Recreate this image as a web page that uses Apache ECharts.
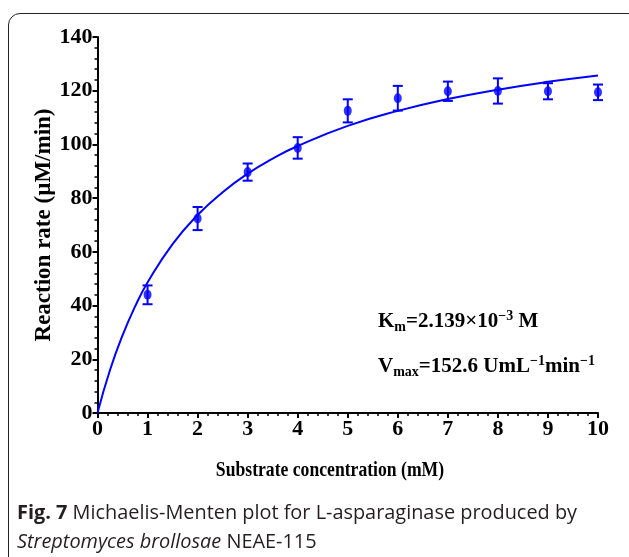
<!DOCTYPE html>
<html>
<head>
<meta charset="utf-8">
<script src="https://cdn.jsdelivr.net/npm/echarts@6/dist/echarts.min.js"></script>
<style>
  html, body { margin: 0; padding: 0; background: #fff; }
  #frame {
    position: absolute; left: 8px; top: 13px; width: 632px; height: 556px;
    border: 1.5px solid #222; border-radius: 12px; box-sizing: border-box;
  }
  #chart { position: absolute; left: 0; top: 0; width: 629px; height: 557px; }
  #caption {
    position: absolute; left: 17px; top: 497px; width: 610px;
    font-family: "Open Sans", sans-serif; font-size: 19.9px; line-height: 29px; color: #231f20;
    white-space: nowrap;
  }
</style>
</head>
<body>
<div id="frame"></div>
<div id="chart"></div>
<div id="caption"><b>Fig. 7</b> Michaelis-Menten plot for L-asparaginase produced by<br><i>Streptomyces brollosae</i> NEAE-115</div>
<script>
// measured points (mean ± error)
const substrate = [1, 2, 3, 4, 5, 6, 7, 8, 9, 10];
const rate = [44.0, 72.4, 89.7, 98.7, 112.5, 117.2, 119.8, 119.9, 119.8, 119.4];
const rateErr = [3.5, 4.3, 3.2, 4.0, 4.3, 4.6, 3.6, 4.7, 3.0, 2.9];

// fitted curve
const curveX = [0, 0.25, 0.5, 0.75, 1, 1.5, 2, 2.5, 3, 3.5, 4, 5, 6, 7, 8, 9, 10];
const curveY = [0, 16.0, 28.9, 39.6, 48.6, 62.9, 73.7, 82.2, 89.1, 94.7, 99.4, 106.9, 112.5, 116.9, 120.4, 123.3, 125.7];

const blue = '#0000ff';
const serif = '"Liberation Serif", "Times New Roman", serif';

const chart = echarts.init(document.getElementById('chart'));

const axisCommon = {
  axisLine: { lineStyle: { color: '#000', width: 2 } },
  axisTick: { inside: false, length: 5, lineStyle: { color: '#000', width: 2 } },
  minorTick: { show: true, splitNumber: 5, length: 3, lineStyle: { color: '#000', width: 1.5 } },
  splitLine: { show: false },
  axisLabel: { color: '#000', fontFamily: serif, fontWeight: 'bold', fontSize: 22 }
};

const rich = {
  b: { fontFamily: serif, fontWeight: 'bold', fontSize: 21, fill: '#000' },
  s: { fontFamily: serif, fontWeight: 'bold', fontSize: 14, padding: [11, 0, 0, 0], fill: '#000' },
  p: { fontFamily: serif, fontWeight: 'bold', fontSize: 14, padding: [0, 0, 11, 0], fill: '#000' }
};

const option = {
  animation: false,
  grid: { left: 97.5, right: 31, top: 37, bottom: 144 },
  xAxis: Object.assign({}, axisCommon, {
    type: 'value', min: 0, max: 10, interval: 1,
    axisLabel: Object.assign({}, axisCommon.axisLabel, { margin: 5 })
  }),
  yAxis: Object.assign({}, axisCommon, {
    type: 'value', min: 0, max: 140, interval: 20,
    name: 'Reaction rate (\u00b5M/min)',
    nameLocation: 'middle', nameGap: 42, nameMoveOverlap: false,
    nameTextStyle: { color: '#000', fontFamily: serif, fontWeight: 'bold', fontSize: 23 },
    axisLabel: Object.assign({}, axisCommon.axisLabel, { margin: 5 })
  }),
  series: [
    {
      type: 'line',
      data: curveX.map((x, i) => [x, curveY[i]]),
      smooth: true,
      showSymbol: false,
      lineStyle: { color: blue, width: 2 },
      z: 2
    },
    {
      type: 'custom',
      data: substrate.map((x, i) => [x, rate[i] - rateErr[i], rate[i] + rateErr[i]]),
      renderItem: function (params, api) {
        const lo = api.coord([api.value(0), api.value(1)]);
        const hi = api.coord([api.value(0), api.value(2)]);
        const w = 5;
        const style = { stroke: blue, lineWidth: 2 };
        return {
          type: 'group',
          children: [
            { type: 'line', shape: { x1: lo[0], y1: lo[1], x2: hi[0], y2: hi[1] }, style: style },
            { type: 'line', shape: { x1: lo[0] - w, y1: lo[1], x2: lo[0] + w, y2: lo[1] }, style: style },
            { type: 'line', shape: { x1: hi[0] - w, y1: hi[1], x2: hi[0] + w, y2: hi[1] }, style: style }
          ]
        };
      },
      z: 3
    },
    {
      type: 'scatter',
      data: substrate.map((x, i) => [x, rate[i]]),
      symbol: 'circle',
      symbolSize: [8, 10],
      itemStyle: { color: blue },
      z: 4
    }
  ],
  graphic: [
    {
      // x axis title, condensed like the original
      type: 'text', x: 330, y: 471, scaleX: 0.84,
      style: {
        text: 'Substrate concentration (mM)',
        fontFamily: serif, fontWeight: 'bold', fontSize: 21, fill: '#000',
        align: 'center', verticalAlign: 'middle'
      }
    },
    {
      type: 'text', x: 378, y: 322,
      style: { text: '{b|K}{s|m}{b|=2.139\u00d710}{p|\u22123}{b| M}', verticalAlign: 'middle', rich: rich }
    },
    {
      type: 'text', x: 378, y: 367,
      style: { text: '{b|V}{s|max}{b|=152.6 UmL}{p|\u22121}{b|min}{p|\u22121}', verticalAlign: 'middle', rich: rich }
    }
  ]
};

chart.setOption(option);
</script>
</body>
</html>
